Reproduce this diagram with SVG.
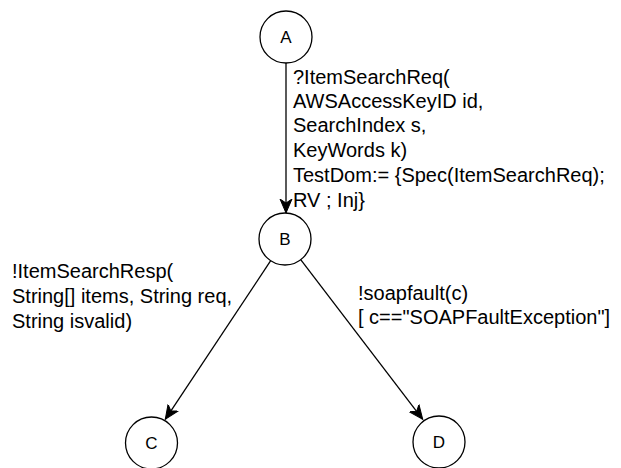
<svg xmlns="http://www.w3.org/2000/svg" width="621" height="468" viewBox="0 0 621 468">
<defs>
<style>
.node{fill:#fff;stroke:#000;stroke-width:1.3}
.nl{font-family:"Liberation Sans",Arial,sans-serif;font-size:17px;fill:#000;text-anchor:middle}
.el{font-family:"Liberation Sans",Arial,sans-serif;font-size:20px;fill:#000}
.edge{fill:none;stroke:#000;stroke-width:1.3}
</style>
<marker id="arr" markerUnits="userSpaceOnUse" markerWidth="16" markerHeight="14" viewBox="0 0 16 14" refX="14" refY="7" orient="auto">
<path d="M0,1 L14,7 L0,13 L4,7 Z" fill="#000" stroke="#000" stroke-width="1"/>
</marker>
</defs>
<rect width="621" height="468" fill="#fff"/>
<g id="connectors">
<line class="edge" x1="286" y1="63" x2="286" y2="213" marker-end="url(#arr)"/>
<line class="edge" x1="270.7" y1="260.7" x2="165.3" y2="419.3" marker-end="url(#arr)"/>
<line class="edge" x1="300.7" y1="259.7" x2="422.7" y2="419.3" marker-end="url(#arr)"/>
</g>
<g id="labels">
<text class="el"><tspan x="293" y="84">?ItemSearchReq(</tspan><tspan x="293" y="108">AWSAccessKeyID id,</tspan><tspan x="293" y="132">SearchIndex s,</tspan><tspan x="293" y="157">KeyWords k)</tspan><tspan x="293" y="182">TestDom:= {Spec(ItemSearchReq);</tspan><tspan x="293" y="207">RV ; Inj}</tspan></text>
<text class="el"><tspan x="12" y="278">!ItemSearchResp(</tspan><tspan x="12" y="303">String[] items, String req,</tspan><tspan x="12" y="328">String isvalid)</tspan></text>
<text class="el"><tspan x="358" y="300">!soapfault(c)</tspan><tspan x="358" y="324">[ c=="SOAPFaultException"]</tspan></text>
</g>
<g id="A"><circle class="node" cx="286" cy="37" r="26"/><text class="nl" x="286" y="43">A</text></g>
<g id="B"><circle class="node" cx="285" cy="239" r="26"/><text class="nl" x="285" y="245">B</text></g>
<g id="C"><circle class="node" cx="151.5" cy="443" r="26"/><text class="nl" x="151.5" y="449">C</text></g>
<g id="D"><circle class="node" cx="439" cy="442" r="26"/><text class="nl" x="439" y="448">D</text></g>
</svg>
